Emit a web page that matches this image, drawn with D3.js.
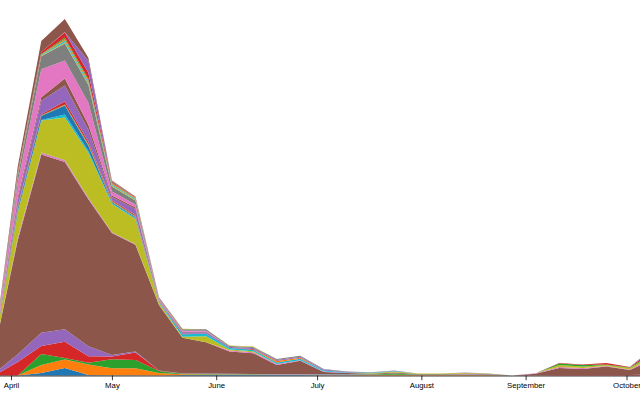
<!DOCTYPE html>
<html>
<head>
<meta charset="utf-8">
<script src="https://cdn.jsdelivr.net/npm/d3@7"></script>
<style>
  html, body { margin: 0; padding: 0; background: #fff; overflow: hidden; }
  svg { display: block; }
</style>
</head>
<body>
<svg id="chart" width="640" height="400"></svg>
<script>
// weekly dates (Fridays, 2020)
const dates = ["2020-03-27","2020-04-03","2020-04-10","2020-04-17","2020-04-24","2020-05-01","2020-05-08","2020-05-15","2020-05-22","2020-05-29","2020-06-05","2020-06-12","2020-06-19","2020-06-26","2020-07-03","2020-07-10","2020-07-17","2020-07-24","2020-07-31","2020-08-07","2020-08-14","2020-08-21","2020-08-28","2020-09-04","2020-09-11","2020-09-18","2020-09-25","2020-10-02","2020-10-09"];

// series values, bottom to top
const s00 = [0,0,2.5,7.5,0.5,0.3,0.3,0,0.5,0.5,0.5,0.5,0.5,0.5,0.3,0.3,0,0,0,0,0,0,0,0,0,0,0,0,0];
const s01 = [0,0,8,8.5,10.5,7,7,2.5,0.8,0.5,0.3,0.3,0.3,0.3,0.3,0.3,0.5,0.8,0.6,0.6,0.8,0.6,0,0,0,0,0,0,0];
const s02 = [0,0,11,1.5,1.7,9,8.3,2,0.5,0.5,0.5,0.5,0.3,0.3,0.3,0.5,0.5,1,0.3,0.3,0.3,0.3,0,0,0,0,0,0,0];
const s03 = [0,13.5,8,16.3,6.6,2.6,7.3,0.5,0,0,0,0,0,0,0,0,0,0,0,0,0,0,0,0.3,0.5,0.5,0.5,0.5,1];
const s04 = [2,7.7,13.3,12.4,10,1.7,1,0,0.3,0.5,0.5,0.3,0.3,0.3,0.5,0.5,0.3,0.3,0.3,0.3,0.3,0.5,0,0,0,0,0,0,0];
const s05 = [22,114,178,167,146.7,121.7,106.7,65.5,35.7,31.3,22.3,20.7,9,13.3,2,1,0.5,1,0.3,0.3,0.5,0.3,0,1.5,7,6,8.5,5,15];
const s06 = [0,2,1.5,1.5,1,0.5,0.5,0.3,0,0,1,1,1,0.5,0.5,0,0,0,0,0,0,0,0,0.5,1,1,0.5,0.5,2];
const s07 = [0,0.7,0.5,0.5,0.5,0.3,0.3,0,0,0,0,0,0,0,0,0,0,0,0,0,0,0,0,0,0,0,0,0,0];
const s08 = [3,25,32,42.5,45,28.3,25,2,1,6,1,1,0,0,0,0,0.5,1,0.5,0.5,0.8,0.3,0,0,2,1.5,1,1.5,3];
const s09 = [0,1,0.5,3,2,1,1,1,2.5,2.5,1.5,1.5,1.5,1.5,1,0.5,0.5,0.3,0,0,0,0,0,0,0,0,0,0,0];
const s10 = [0,3,4,9,5,1,1,0,0,0,0,0,0,0,0,0,0,0,0,0,0,0,0,0,0,0,0,0,0];
const s11 = [0,0.7,0.3,0.5,1,0.5,0.5,0.3,0,0,0,0,1.5,1,0,0,0,0,0,0,0,0,0,0,0,0,0,0,0];
const s12 = [0,0.7,0.5,0.5,1,0.5,0.5,0,0,0,0,0,0,0,0,0,0,0,0,0,0,0,0,0,1.5,1.5,0.5,0.5,2];
const s13 = [0,0.7,1,3,2,1,1,0.3,0.5,0,0,0.6,0,0,0,0,0,0,0,0,0,0,0,0,0.5,0.5,1.5,0.5,3];
const s14 = [0,6,13.3,16,12,3,6,1,1.5,1.5,1,1,1,1,1,0.5,0,0.5,0,0,0.3,0,0,0,0,0,0,0,2];
const s15 = [0,3,3.7,7,5,1.5,1.5,0.3,0.5,0.5,0,0,0,0,0,0,0,0,0,0,0,0,0,0,0,0,0,0,0];
const s16 = [2,15,28,18,22,4,3,1,1,1,0,0,0,0,0,0,0,0,0,0,0,0,0,0,0,0,0,0,0];
const s17 = [1,6,13,17,18,5,4,1,1.5,1.5,1,1,1,1,0.5,0.5,0.5,0,0,0,0,0,0,0,0,0,0,0,0];
const s18 = [0,0.7,0.5,1,1,1,0.7,0,0.5,0,0.5,0.5,0,0,0,0,0,0,0,0,0,0,0,0,0,0,0,0,0];
const s19 = [0,0.7,0.5,1.5,1.5,1,0.7,0,0,0,0,0,0,0,0,0,0,0,0,0,0,0,0,0,0,0,0,0,0];
const s20 = [0,0,0.2,0.5,0.5,0.3,0.3,0,0,0,0,0,0,0,0,0,0,0,0,0,0,0,0,0,0,0,0,0,0];
const s21 = [0,0.7,0.5,1.5,1.5,1,0.7,0,0,0,0,0,0,0,0,0,0,0,0,0,0,0,0,0,0,0,0,0,0];
const s22 = [0,0.7,0.5,1.5,1.5,0.5,0.3,0,0,0,0,0,0,0,0,0,0,0,0,0,0,0,0,0,0,0,0,0,0];
const s23 = [0,2,2,5,6,1,0.5,0.3,0,0,0,0,0,0,0,0,0,0,0,0,0,0,0,0,0,0,0,0,0];
const s24 = [0,0,0,0.5,12,0.5,0.3,0,0,0,0,0,0,0,0,0,0,0,0,0,0,0,0,0,0,0,0,0,0];
const s25 = [0,5,11,13,3,0.7,0.5,0.3,0,0,0,0,0,0,0,0,0,0,0,0,0,0,0,0,0,0,0,0,0];

const seriesList = [s00,s01,s02,s03,s04,s05,s06,s07,s08,s09,s10,s11,s12,s13,s14,s15,s16,s17,s18,s19,s20,s21,s22,s23,s24,s25];
const keys = seriesList.map((_, i) => "s" + i);

const parse = d3.utcParse("%Y-%m-%d");
const rows = dates.map((d, i) => {
  const r = { date: parse(d) };
  seriesList.forEach((s, k) => { r[keys[k]] = s[i]; });
  return r;
});

const width = 640, height = 400;
const svg = d3.select("#chart");

const x = d3.scaleUtc()
  .domain(d3.extent(rows, d => d.date))
  .range([-5.8, 653.4]);

const stacked = d3.stack().keys(keys)(rows);
const ymax = d3.max(stacked[stacked.length - 1], d => d[1]);
const y = d3.scaleLinear().domain([0, ymax]).range([375.5, 19]);

const color = d3.scaleOrdinal().domain(keys).range(d3.schemeCategory10);

const area = d3.area()
  .x(d => x(d.data.date))
  .y0(d => y(d[0]))
  .y1(d => y(d[1]));

svg.append("g")
  .selectAll("path")
  .data(stacked)
  .join("path")
  .attr("fill", d => color(d.key))
  .attr("d", area);

const gx = svg.append("g")
  .attr("transform", `translate(0,${y(0)})`)
  .call(d3.axisBottom(x).ticks(width / 80).tickSizeInner(4.7).tickSizeOuter(0).tickPadding(2.3));
gx.attr("font-size", 7.8).attr("font-family", "'Liberation Sans', Arial, Helvetica, sans-serif");
gx.selectAll("path, line").attr("stroke-width", 0.78);
</script>
</body>
</html>
